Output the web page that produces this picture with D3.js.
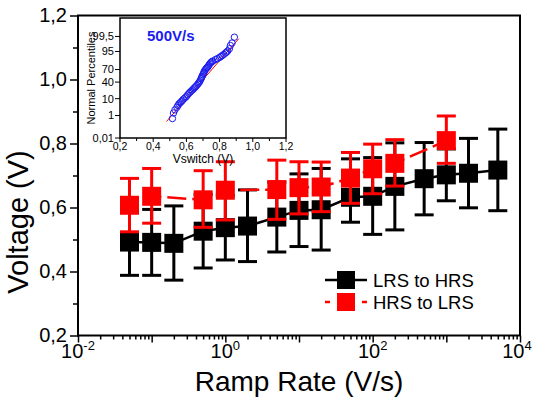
<!DOCTYPE html>
<html>
<head>
<meta charset="utf-8">
<script src="https://cdn.jsdelivr.net/npm/d3@7"></script>
<style>
  body { margin: 0; background: #fff; }
  text { font-family: Arial, "Liberation Sans", sans-serif; }
</style>
</head>
<body>
<div id="chart"></div>
<script>
// ramp rates (V/s) and switching voltages (V)
var lrsRate = [0.05, 0.1, 0.2, 0.5, 1, 2, 5, 10, 20, 50, 100, 200, 500, 1000, 2000, 5000];
var lrsMean = [0.492, 0.491, 0.488, 0.526, 0.537, 0.542, 0.570, 0.591, 0.593, 0.632, 0.635, 0.666, 0.690, 0.702, 0.707, 0.717];
var lrsHigh = [0.596, 0.594, 0.605, 0.641, 0.638, 0.655, 0.679, 0.705, 0.722, 0.752, 0.756, 0.802, 0.803, 0.783, 0.816, 0.845];
var lrsLow  = [0.388, 0.388, 0.373, 0.411, 0.436, 0.431, 0.461, 0.478, 0.467, 0.554, 0.516, 0.530, 0.577, 0.621, 0.599, 0.590];

var hrsRate = [0.05, 0.1, 0.5, 1, 5, 10, 20, 50, 100, 200, 1000];
var hrsMean = [0.607, 0.635, 0.624, 0.654, 0.656, 0.662, 0.664, 0.692, 0.721, 0.738, 0.809];
var hrsHigh = [0.691, 0.722, 0.715, 0.743, 0.748, 0.743, 0.742, 0.772, 0.798, 0.812, 0.886];
var hrsLow  = [0.524, 0.551, 0.538, 0.561, 0.563, 0.580, 0.587, 0.613, 0.643, 0.667, 0.738];

var yTicks = [0.2, 0.4, 0.6, 0.8, 1.0, 1.2];
var xTickExp = [-2, 0, 2, 4];

// inset: Vswitch distribution at 500 V/s
var insetV = [0.516, 0.522, 0.531, 0.543, 0.549, 0.555, 0.562, 0.569, 0.576, 0.583, 0.591, 0.599, 0.607, 0.615,
  0.622, 0.629, 0.636, 0.643, 0.649, 0.655, 0.662, 0.669, 0.674, 0.679, 0.684, 0.689, 0.692, 0.695, 0.699, 0.703,
  0.706, 0.709, 0.714, 0.719, 0.724, 0.729, 0.734, 0.739, 0.744, 0.749, 0.754, 0.759, 0.775, 0.787, 0.799, 0.807,
  0.815, 0.825, 0.835, 0.842, 0.849, 0.859, 0.865, 0.875, 0.889];
var insetPct = [0.6, 1.5, 2.4, 3.5, 4.4, 5.4, 6.2, 7.1, 8.3, 9.6, 10.9, 12.3, 14.6, 17.1,
  19.0, 20.9, 23.0, 25.2, 27.2, 29.3, 32.0, 35.2, 38.0, 40.6, 44.5, 48.8, 51.5, 54.5, 58.0, 61.0,
  64.0, 67.0, 69.5, 72.1, 73.8, 75.3, 78.0, 80.3, 82.0, 83.5, 84.5, 85.4, 87.3, 88.5, 89.7, 90.8,
  91.7, 92.8, 93.9, 94.6, 95.3, 96.5, 97.8, 98.5, 99.43];
var fitV = [0.48, 0.915];
var fitPct = [0.35, 99.25];
var insetXTicks = [0.2, 0.4, 0.6, 0.8, 1.0, 1.2];
var insetYTicks = [0.01, 1, 10, 40, 70, 95, 99.5];

(function() {
  var width = 533,
    height = 403;

  var svg = d3.select("#chart")
    .append("svg")
    .attr("width", width)
    .attr("height", height);

  svg.append("rect").attr("width", width).attr("height", height).attr("fill", "#fff");

  var x = d3.scaleLog().domain([0.01, 10000]).range([78, 520]);
  var y = d3.scaleLinear().domain([0.2, 1.2]).range([335.5, 15.5]);

  function comma(v, n) { return d3.format("." + n + "f")(v).replace(".", ","); }

  // y axis, major + minor
  svg.append("g")
    .attr("transform", "translate(78,0)")
    .call(d3.axisLeft(y).tickValues(d3.range(0.3, 1.2, 0.2)).tickSize(5).tickFormat(""))
    .call(function(g) { g.select(".domain").remove(); })
    .selectAll("line").attr("stroke-width", 1.5);

  var yAxis = svg.append("g")
    .attr("transform", "translate(78,0)")
    .call(d3.axisLeft(y).tickValues(yTicks).tickSize(8).tickPadding(3)
      .tickFormat(function(d) { return comma(d, 1); }));
  yAxis.select(".domain").remove();
  yAxis.selectAll("line").attr("stroke-width", 1.5);
  yAxis.selectAll("text").attr("font-size", 20).attr("fill", "#000")
    .attr("font-family", "Arial, 'Liberation Sans', sans-serif");

  // x axis minor ticks (2..9 each decade)
  var minor = [];
  for (var e = -2; e < 4; e++) {
    for (var m = 2; m <= 9; m++) minor.push(m * Math.pow(10, e));
  }
  svg.append("g")
    .attr("transform", "translate(0,335.5)")
    .call(d3.axisBottom(x).tickValues(minor).tickSize(4).tickFormat(""))
    .call(function(g) { g.select(".domain").remove(); })
    .selectAll("line").attr("stroke-width", 1.5);

  svg.append("g")
    .attr("transform", "translate(0,335.5)")
    .call(d3.axisBottom(x).tickValues([0.01, 0.1, 1, 10, 100, 1000, 10000]).tickSize(7).tickFormat(""))
    .call(function(g) { g.select(".domain").remove(); })
    .selectAll("line").attr("stroke-width", 1.5);

  var xLab = svg.selectAll(".xlab")
    .data(xTickExp)
    .enter().append("text")
    .attr("class", "xlab")
    .attr("x", function(d, i) { return x(Math.pow(10, d)) - (i == 3 ? 3 : 0); })
    .attr("y", 358)
    .attr("text-anchor", "middle")
    .attr("font-size", 20);
  xLab.append("tspan").text("10");
  xLab.append("tspan").attr("font-size", 13).attr("dy", -8).text(function(d) { return d; });

  // frame
  svg.append("rect")
    .attr("x", 78).attr("y", 15.5)
    .attr("width", 442).attr("height", 320)
    .attr("fill", "none").attr("stroke", "#000").attr("stroke-width", 2);

  // axis titles
  svg.append("text")
    .attr("x", 299).attr("y", 391)
    .attr("text-anchor", "middle")
    .attr("font-size", 28)
    .text("Ramp Rate (V/s)");

  svg.append("text")
    .attr("transform", "translate(28,222) rotate(-90)")
    .attr("text-anchor", "middle")
    .attr("font-size", 29)
    .text("Voltage (V)");

  var sq = 19;

  function series(rate, mean, high, low, color, dashed) {
    var pts = rate.map(function(r, i) {
      return { r: r, m: mean[i], h: high[i], l: low[i] };
    });
    var g = svg.append("g");

    var line = d3.line()
      .x(function(d) { return x(d.r); })
      .y(function(d) { return y(d.m); });

    var path = g.append("path")
      .datum(pts)
      .attr("d", line)
      .attr("fill", "none")
      .attr("stroke", color)
      .attr("stroke-width", 2.5);
    if (dashed) path.attr("stroke-dasharray", "19,6").attr("stroke-dashoffset", 10.4);

    var bars = g.selectAll(".eb")
      .data(pts)
      .enter().append("g");
    bars.append("line")
      .attr("x1", function(d) { return x(d.r); })
      .attr("x2", function(d) { return x(d.r); })
      .attr("y1", function(d) { return y(d.h); })
      .attr("y2", function(d) { return y(d.l); })
      .attr("stroke", color).attr("stroke-width", 3);
    bars.append("line")
      .attr("x1", function(d) { return x(d.r) - sq / 2; })
      .attr("x2", function(d) { return x(d.r) + sq / 2; })
      .attr("y1", function(d) { return y(d.h); })
      .attr("y2", function(d) { return y(d.h); })
      .attr("stroke", color).attr("stroke-width", 3);
    bars.append("line")
      .attr("x1", function(d) { return x(d.r) - sq / 2; })
      .attr("x2", function(d) { return x(d.r) + sq / 2; })
      .attr("y1", function(d) { return y(d.l); })
      .attr("y2", function(d) { return y(d.l); })
      .attr("stroke", color).attr("stroke-width", 3);

    g.selectAll(".pt")
      .data(pts)
      .enter().append("rect")
      .attr("x", function(d) { return x(d.r) - sq / 2; })
      .attr("y", function(d) { return y(d.m) - sq / 2; })
      .attr("width", sq).attr("height", sq)
      .attr("fill", color);
  }

  series(lrsRate, lrsMean, lrsHigh, lrsLow, "#000", false);
  series(hrsRate, hrsMean, hrsHigh, hrsLow, "#ff0000", true);

  // legend
  var leg = svg.append("g");
  leg.append("line").attr("x1", 325).attr("x2", 367).attr("y1", 280).attr("y2", 280)
    .attr("stroke", "#000").attr("stroke-width", 2.5);
  leg.append("rect").attr("x", 337).attr("y", 271).attr("width", 18).attr("height", 18).attr("fill", "#000");
  leg.append("text").attr("x", 373).attr("y", 286.5).attr("font-size", 18.5).text("LRS to HRS");
  leg.append("line").attr("x1", 325).attr("x2", 367).attr("y1", 302).attr("y2", 302)
    .attr("stroke", "#ff0000").attr("stroke-width", 2.5).attr("stroke-dasharray", "5,32,5");
  leg.append("rect").attr("x", 337).attr("y", 293).attr("width", 18).attr("height", 18).attr("fill", "#ff0000");
  leg.append("text").attr("x", 373).attr("y", 308.5).attr("font-size", 18.5).text("HRS to LRS");

  // ---- inset normal probability plot ----
  function probit(p) {
    var a = [-39.69683028665376, 220.9460984245205, -275.9285104469687, 138.3577518672690, -30.66479806614716, 2.506628277459239];
    var b = [-54.47609879822406, 161.5858368580409, -155.6989798598866, 66.80131188771972, -13.28068155288572];
    var c = [-0.007784894002430293, -0.3223964580411365, -2.400758277161838, -2.549732539343734, 4.374664141464968, 2.938163982698783];
    var d = [0.007784695709041462, 0.3224671290700398, 2.445134137142996, 3.754408661907416];
    var plow = 0.02425, q, r;
    if (p < plow) {
      q = Math.sqrt(-2 * Math.log(p));
      return (((((c[0]*q+c[1])*q+c[2])*q+c[3])*q+c[4])*q+c[5]) / ((((d[0]*q+d[1])*q+d[2])*q+d[3])*q+1);
    }
    if (p > 1 - plow) {
      q = Math.sqrt(-2 * Math.log(1 - p));
      return -(((((c[0]*q+c[1])*q+c[2])*q+c[3])*q+c[4])*q+c[5]) / ((((d[0]*q+d[1])*q+d[2])*q+d[3])*q+1);
    }
    q = p - 0.5; r = q * q;
    return (((((a[0]*r+a[1])*r+a[2])*r+a[3])*r+a[4])*r+a[5])*q / (((((b[0]*r+b[1])*r+b[2])*r+b[3])*r+b[4])*r+1);
  }

  var ix = d3.scaleLinear().domain([0.2, 1.2]).range([120, 286]);
  var iz = d3.scaleLinear().domain([probit(0.0001), probit(0.9999)]).range([138, 18]);
  function iy(pct) { return iz(probit(pct / 100)); }

  var inset = svg.append("g");
  inset.append("rect")
    .attr("x", 120).attr("y", 18).attr("width", 166).attr("height", 120)
    .attr("fill", "#fff").attr("stroke", "#000").attr("stroke-width", 1.5);

  inset.selectAll(".iyt")
    .data(insetYTicks)
    .enter().append("line")
    .attr("x1", 115).attr("x2", 120)
    .attr("y1", function(d) { return iy(d); })
    .attr("y2", function(d) { return iy(d); })
    .attr("stroke", "#000").attr("stroke-width", 1);
  inset.selectAll(".iyl")
    .data(insetYTicks)
    .enter().append("text")
    .attr("x", 114)
    .attr("y", function(d) { return iy(d); })
    .attr("dy", "0.35em")
    .attr("text-anchor", "end")
    .attr("font-size", 11)
    .text(function(d) { return String(d).replace(".", ","); });

  inset.selectAll(".ixt")
    .data(d3.range(0.2, 1.25, 0.1))
    .enter().append("line")
    .attr("x1", function(d) { return ix(d); })
    .attr("x2", function(d) { return ix(d); })
    .attr("y1", 138)
    .attr("y2", function(d, i) { return i % 2 ? 141 : 142; })
    .attr("stroke", "#000").attr("stroke-width", 1);
  inset.selectAll(".ixl")
    .data(insetXTicks)
    .enter().append("text")
    .attr("x", function(d) { return ix(d); })
    .attr("y", 149.5)
    .attr("text-anchor", "middle")
    .attr("font-size", 10.5)
    .text(function(d) { return comma(d, 1); });

  inset.append("text")
    .attr("x", 203).attr("y", 162.5)
    .attr("text-anchor", "middle")
    .attr("font-size", 12)
    .text("Vswitch (V)");
  inset.append("text")
    .attr("transform", "translate(95,78) rotate(-90)")
    .attr("text-anchor", "middle")
    .attr("font-size", 11)
    .text("Normal Percentiles");

  inset.append("line")
    .attr("x1", ix(fitV[0])).attr("y1", iy(fitPct[0]))
    .attr("x2", ix(fitV[1])).attr("y2", iy(fitPct[1]))
    .attr("stroke", "#ff0000").attr("stroke-width", 1);

  inset.selectAll(".ipt")
    .data(insetV)
    .enter().append("circle")
    .attr("cx", function(d) { return ix(d); })
    .attr("cy", function(d, i) { return iy(insetPct[i]); })
    .attr("r", 3.2)
    .attr("fill", "none")
    .attr("stroke", "#1c1cf0")
    .attr("stroke-width", 1);

  inset.append("text")
    .attr("x", 147).attr("y", 41)
    .attr("font-size", 15)
    .attr("font-weight", "bold")
    .attr("fill", "#1c1cf0")
    .text("500V/s");
})();
</script>
</body>
</html>
